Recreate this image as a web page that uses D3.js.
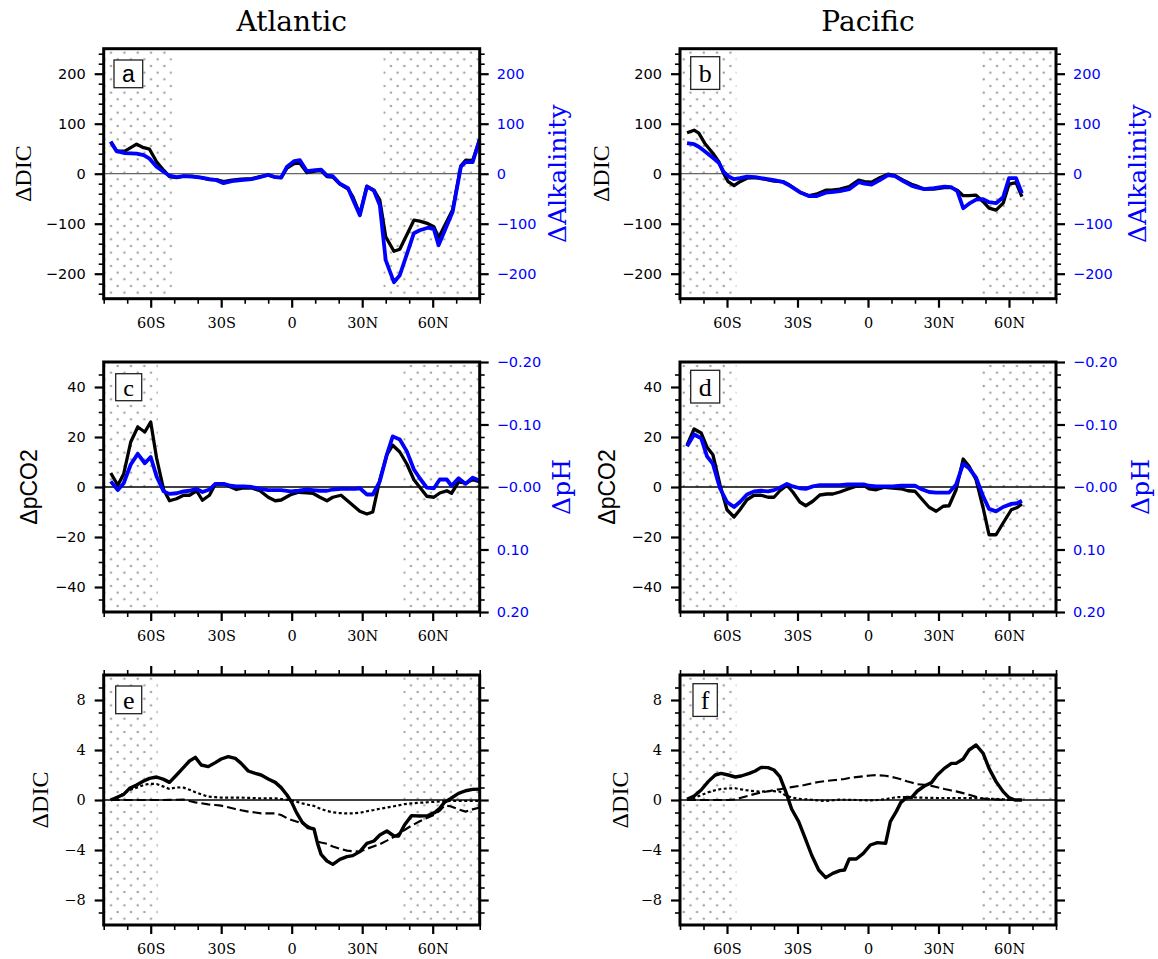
<!DOCTYPE html>
<html>
<head>
<meta charset="utf-8">
<script src="https://cdn.jsdelivr.net/npm/d3@7"></script>
<style>body{margin:0;background:#fff}</style>
</head>
<body>
<script>
// ---- data ----
var latA = [-77,-74.5,-71,-66,-63,-60.5,-57.5,-54.5,-52,-49,-46,-42.5,-38.5,-35,-32,-29,-25.5,-21.5,-17,-13.5,-10,-7,-4.5,-2,1,3.5,6.5,10,12.5,15,17.5,20.5,24,26,29,32,35,37.5,40,43.5,46,52,54.5,58,60.5,62.5,68.5,72,74,77,80];
var dicA = [64,45,45,59,52,49,24,7,-6,-8,-5,-5,-8,-12,-12,-16,-13,-11,-10,-6,-3,-7,-8,11,20,21,2,5,6,-6,-7,-21,-31,-46,-81,-25,-33,-53,-126,-155,-151,-93,-95,-100,-106,-128,-72,16,27,26,69];
var alkA = [64,45,41,40,37,30,14,4,-4,-7,-5,-6,-8,-11,-13,-19,-15,-13,-11,-7,-2,-7,-8,14,25,27,5,7,8,-4,-5,-20,-29,-51,-83,-26,-34,-63,-173,-217,-203,-119,-113,-108,-111,-143,-76,14,23,23,69];

var latB = [-77,-74,-72,-69.5,-66,-63.5,-61.5,-59.5,-57,-54.5,-51.5,-48,-44,-40,-36,-34,-29,-25,-22,-18,-15.5,-12,-8,-4,-1.5,1.5,5,8.5,11.5,15,18.5,20.5,24,28,32.5,35.5,38,40.5,43,46,49,51.5,54.5,57.5,60,63,65.5];
var dicB = [82,87,81,61,41,24,1,-16,-24,-16,-9,-8,-11,-15,-16,-21,-37,-44,-41,-33,-33,-31,-26,-13,-16,-17,-8,-1,-4,-13,-21,-24,-31,-31,-28,-28,-33,-44,-44,-43,-56,-69,-73,-59,-21,-18,-46];
var alkB = [61,59,54,45,32,22,4,-5,-11,-9,-6,-7,-10,-13,-17,-22,-37,-45,-45,-38,-37,-35,-31,-17,-20,-22,-13,-3,-5,-15,-24,-27,-31,-29,-26,-27,-35,-69,-60,-52,-51,-57,-59,-47,-9,-9,-39];

var latC = [-77,-74,-71.5,-68.5,-65.5,-62.5,-60,-57.5,-54.5,-52,-49,-46,-43.5,-40.5,-38,-35,-32.5,-29,-26,-23.5,-20.5,-17,-13.5,-10,-7,-4.5,-0.5,3,6.5,9,12,15,17.5,21,24,27,29,32,34.5,37.5,40.5,43,46,49,52,54.5,57.5,60.5,63,66,68,71,74,77,80];
var pco2C = [5.6,0.7,5.2,18,24,22,26,11.6,-1,-5.5,-4.7,-3.3,-3.3,-1.5,-5.3,-3.3,1.2,1.3,0,-1,-0.4,-0.4,-1.5,-4.1,-5.5,-5.2,-3.1,-2.1,-2.3,-2.5,-4.1,-5.5,-4.1,-3.3,-5.7,-8.1,-9.7,-10.8,-10,2.9,12.9,16.7,14,9.2,2.9,-0.1,-3.7,-4.1,-2.4,-1.5,-2.5,2,1.5,3,2];
var phC = [-0.009,0.005,-0.006,-0.036,-0.053,-0.038,-0.048,-0.017,0.007,0.011,0.010,0.007,0.006,0.003,0.008,0.004,-0.005,-0.005,-0.002,-0.001,-0.001,0,0.003,0.005,0.005,0.005,0.007,0.006,0.004,0.005,0.006,0.006,0.004,0.003,0.003,0.003,0.002,0.012,0.012,-0.009,-0.052,-0.081,-0.076,-0.057,-0.028,-0.014,0.001,0.002,-0.012,-0.012,-0.002,-0.014,-0.005,-0.015,-0.010];

var latD = [-77,-74,-71,-68.5,-66,-63,-60,-57,-54.5,-51.5,-48.5,-45.5,-42.5,-40,-37.5,-34.5,-32,-29,-26.5,-23.5,-20.5,-17.5,-15,-12,-8.5,-5,-1.5,0.5,3.5,7,10.5,14,17,20,22.5,26,29,32,34.5,37.5,40.5,43,46,49,51.5,54.5,57.5,61,63.5,65.5];
var pco2D = [16.7,23.2,21.6,15.9,12.9,0.9,-9.1,-12,-9.1,-5.1,-3.3,-3.3,-4.1,-4.1,-1.5,0.7,-2,-6,-7.5,-5.7,-3.2,-2.8,-2.8,-2,-0.8,0.3,0.5,-0.7,-1.1,-0.1,-0.4,-0.7,-1.5,-1.7,-4.4,-8.1,-9.7,-7.7,-7.5,-1.1,11.2,8.3,2.9,-8.4,-19.1,-19.1,-14.4,-9.1,-8.2,-6.8];
var phD = [-0.065,-0.084,-0.078,-0.049,-0.037,0.002,0.024,0.032,0.024,0.012,0.007,0.006,0.007,0.005,0.001,-0.005,-0.001,0.002,0.003,-0.001,-0.003,-0.003,-0.003,-0.003,-0.004,-0.004,-0.004,-0.002,-0.001,-0.001,-0.001,-0.002,-0.002,-0.002,0.003,0.008,0.009,0.009,0.009,-0.004,-0.037,-0.030,-0.015,0.015,0.035,0.039,0.032,0.027,0.026,0.022];

var latE = [-77,-74.5,-71.5,-69,-66,-63,-60.5,-57.5,-54.5,-52,-49,-46,-43.5,-41,-38.5,-35.5,-32.5,-30,-27,-24,-21.5,-18.5,-15.5,-13,-10,-7,-4.5,-2,0,2,4.5,7,9.5,11,12.5,15,17.5,20.5,23.5,26,29,32,35,37.5,40.5,43.5,45.5,48,51,54.5,58,61,63,65,67.5,71,74,77,80];
var totE = [0,0.2,0.45,0.93,1.2,1.52,1.73,1.84,1.65,1.41,2.0,2.61,3.12,3.41,2.8,2.67,2.99,3.28,3.47,3.33,2.93,2.32,2.13,2.0,1.68,1.41,0.99,0.4,-0.19,-0.99,-1.79,-2.21,-2.32,-3.47,-4.35,-4.88,-5.15,-4.75,-4.53,-4.45,-4.13,-3.47,-3.28,-2.8,-2.48,-2.88,-2.88,-2.0,-1.25,-1.28,-1.25,-0.99,-0.67,-0.19,0.1,0.53,0.74,0.85,0.87];
var dotE = [0,0.1,0.53,0.78,0.99,1.2,1.3,1.28,1.07,0.88,1.01,0.99,0.82,0.62,0.45,0.27,0.23,0.19,0.19,0.19,0.19,0.17,0.15,0.13,0.13,0.13,0.08,0.02,-0.05,-0.13,-0.27,-0.38,-0.47,-0.6,-0.72,-0.88,-0.98,-1.05,-1.07,-1.07,-1.02,-0.9,-0.8,-0.7,-0.6,-0.5,-0.43,-0.33,-0.27,-0.22,-0.18,-0.14,-0.12,-0.1,-0.08,-0.08,-0.08,-0.08,-0.08];
var dashE = [0,0,0,0,0,0,0,0,0,0.01,0.02,0.03,-0.08,-0.19,-0.26,-0.35,-0.4,-0.45,-0.58,-0.72,-0.82,-0.93,-1.0,-1.07,-1.07,-1.07,-1.2,-1.45,-1.6,-1.72,-1.87,-2.1,-2.4,-3.33,-3.4,-3.5,-3.72,-3.9,-4.05,-4.1,-4.13,-3.9,-3.7,-3.53,-3.25,-2.95,-2.7,-2.4,-2.05,-1.7,-1.4,-1.15,-0.85,-0.45,-0.5,-0.75,-0.93,-0.75,-0.6];

var latF = [-77,-74,-71,-68,-65,-62.5,-59.5,-56.5,-54,-50.5,-48,-45.5,-42.5,-40,-37.5,-35,-32.5,-29.5,-27,-24,-21,-18,-15,-12,-10,-8,-5,-2,1,4,7.5,9.5,12,14,16.5,18.5,21,24,27,29.5,32.5,35.5,37.5,40.5,43,46,49,51.5,54.5,57.5,60,62.5,65.5];
var totF = [0.05,0.32,0.8,1.47,2.0,2.13,2.0,1.84,1.92,2.13,2.32,2.61,2.59,2.4,1.87,0.67,-0.72,-1.73,-2.93,-4.4,-5.6,-6.21,-5.87,-5.65,-5.6,-4.72,-4.72,-4.27,-3.6,-3.41,-3.47,-1.73,-0.93,-0.19,0.21,0.19,0.72,1.12,1.39,2.0,2.53,2.93,2.93,3.28,4.0,4.4,3.73,2.53,1.47,0.67,0.19,0,0];
var dotF = [0,0.17,0.39,0.62,0.78,0.88,0.93,0.94,0.85,0.75,0.7,0.67,0.7,0.71,0.67,0.35,0.2,0.1,0.06,0.02,-0.04,-0.08,-0.02,0.03,0.02,0.01,0,-0.01,-0.03,0,0.06,0.14,0.22,0.23,0.23,0.21,0.2,0.18,0.17,0.16,0.16,0.16,0.16,0.16,0.15,0.14,0.12,0.1,0.08,0.06,0.04,0.02,0];
var dashF = [0,0,0,0,0,0,0,0.04,0.18,0.36,0.49,0.6,0.7,0.79,0.86,0.94,1.03,1.12,1.2,1.33,1.44,1.52,1.58,1.64,1.68,1.76,1.83,1.89,1.96,1.99,1.94,1.87,1.76,1.66,1.5,1.4,1.26,1.22,1.13,1.02,0.88,0.76,0.69,0.55,0.42,0.25,0.12,0.07,0.04,0.02,0.01,0,0];

// stippled (masked) latitude bands
var stipA = [[-80,-51],[39,80]];
var stipB = [[-80,-56],[48.5,80]];
var stipC = [[-80,-57],[47.5,80]];

var xTicks = [-60,-30,0,30,60];
var xTickLabels = ["60S","30S","0","30N","60N"];
var phTicks = [-0.2,-0.1,0,0.1,0.2];
var phTickLabels = ["\u22120.20","\u22120.10","\u22120.00","0.10","0.20"];

// ---- layout ----
var W = 376, H = 250;
var cols = [103.7, 680];
var rows = [48.7, 362, 675];

var SANS = "DejaVu Sans", SERIF = "DejaVu Serif", TIMES = "Liberation Serif";
var minus = d => d < 0 ? "\u2212" + (-d) : "" + d;

var svg = d3.select("body").append("svg").attr("width", 1158).attr("height", 959);
var defs = svg.append("defs");

function addAxis(g, gen, tr, size, vals, fmt, font, fsize, color, pad) {
  var a = g.append("g").attr("transform", tr)
    .call(gen.tickValues(vals).tickSize(size).tickSizeOuter(0).tickPadding(pad).tickFormat(fmt));
  a.select(".domain").remove();
  a.selectAll("line").attr("stroke", "#000").attr("stroke-width", size > 6 ? 2.2 : 1.6);
  a.selectAll("text").attr("font-family", font).attr("font-size", fsize).attr("fill", color);
  return a;
}

function panel(o) {
  var g = svg.append("g").attr("transform", "translate(" + o.x + "," + o.y + ")");
  var x = d3.scaleLinear().domain([-80, 80]).range([0, W]);
  var y = d3.scaleLinear().domain(o.yDom).range([H, 0]);
  var y2 = o.rDom ? d3.scaleLinear().domain(o.rDom).range([H, 0]) : y;

  // stipple pattern
  var p = defs.append("pattern").attr("id", "st" + o.id).attr("patternUnits", "userSpaceOnUse")
    .attr("x", o.x).attr("y", o.y).attr("width", 13.33).attr("height", 13.33);
  p.append("circle").attr("cx", 10.3).attr("cy", 8.6).attr("r", 1.25).attr("fill", "#a2a2a2");
  p.append("circle").attr("cx", 3.6).attr("cy", 1.9).attr("r", 1.25).attr("fill", "#a2a2a2");
  g.selectAll("rect.stip").data(o.stip).enter().append("rect").attr("class", "stip")
    .attr("x", d => x(d[0])).attr("width", d => x(d[1]) - x(d[0]))
    .attr("y", 0).attr("height", H).attr("fill", "url(#st" + o.id + ")");

  defs.append("clipPath").attr("id", "cl" + o.id).append("rect").attr("width", W).attr("height", H);

  g.append("line").attr("x1", 0).attr("x2", W).attr("y1", y(0)).attr("y2", y(0))
    .attr("stroke", o.zeroColor).attr("stroke-width", 1.3);

  var lg = g.append("g").attr("clip-path", "url(#cl" + o.id + ")");
  o.lines.forEach(function (s) {
    var sc = s.right ? y2 : y;
    lg.append("path").datum(s.v)
      .attr("d", d3.line().x((d, i) => x(s.lat[i])).y(d => sc(d)))
      .attr("fill", "none").attr("stroke", s.color).attr("stroke-width", s.w)
      .attr("stroke-linejoin", "round").attr("stroke-dasharray", s.dash || null);
  });

  // axes
  var xMinor = d3.range(-80, 81, 10).filter(v => v % 30 !== 0);
  addAxis(g, d3.axisBottom(x), "translate(0," + H + ")", 9, xTicks, (d, i) => xTickLabels[i], SERIF, 14.5, "#000", 10);
  addAxis(g, d3.axisBottom(x), "translate(0," + H + ")", 5, xMinor, "", SERIF, 14, "#000", 0);
  if (o.top) {
    addAxis(g, d3.axisTop(x), "translate(0,0)", 9, xTicks, "", SERIF, 14, "#000", 0);
    addAxis(g, d3.axisTop(x), "translate(0,0)", 5, xMinor, "", SERIF, 14, "#000", 0);
  }
  addAxis(g, d3.axisLeft(y), "translate(0,0)", 9, o.yMajor, minus, o.yFont, 14.5, "#000", 9);
  addAxis(g, d3.axisLeft(y), "translate(0,0)", 5, o.yMinor, "", o.yFont, 14, "#000", 0);
  if (o.rMajor) {
    addAxis(g, d3.axisRight(y2), "translate(" + W + ",0)", 9, o.rMajor, o.rFmt, SANS, 14.5, "#0000ff", 8);
    addAxis(g, d3.axisRight(y2), "translate(" + W + ",0)", 5, o.rMinor, "", SANS, 14, "#000", 0);
  } else {
    addAxis(g, d3.axisRight(y), "translate(" + W + ",0)", 9, o.yMajor, "", SANS, 14, "#000", 0);
    addAxis(g, d3.axisRight(y), "translate(" + W + ",0)", 5, o.yMinor, "", SANS, 14, "#000", 0);
  }

  g.append("rect").attr("width", W).attr("height", H).attr("fill", "none")
    .attr("stroke", "#000").attr("stroke-width", 3);

  // panel letter
  var b = o.box;
  g.append("rect").attr("x", b[0]).attr("y", b[1]).attr("width", b[2]).attr("height", b[3])
    .attr("fill", "#fff").attr("stroke", "#222").attr("stroke-width", 1.3);
  g.append("text").attr("x", b[0] + b[2] / 2).attr("y", b[1] + b[3] / 2).attr("dy", "0.35em")
    .attr("text-anchor", "middle").attr("font-family", o.letterFont).attr("font-size", o.letterSize)
    .text(o.id);

  // axis titles
  g.append("text").attr("transform", "translate(" + o.lTitleX + "," + H / 2 + ") rotate(-90)")
    .attr("text-anchor", "middle").attr("dy", "0.35em").attr("font-family", o.lTitleFont)
    .attr("font-size", o.lTitleSize).text(o.lTitle);
  if (o.rTitle) {
    g.append("text").attr("transform", "translate(" + (W + o.rTitleDx) + "," + H / 2 + ") rotate(-90)")
      .attr("text-anchor", "middle").attr("dy", "0.35em").attr("font-family", SERIF)
      .attr("font-size", 25).attr("fill", "#0000ff").text(o.rTitle);
  }
}

var dicMajor = [-200, -100, 0, 100, 200], dicMinor = d3.range(-240, 241, 20).filter(v => v % 100 !== 0);
var pMajor = [-40, -20, 0, 20, 40], pMinor = d3.range(-45, 46, 5).filter(v => v % 20 !== 0);
var phMinor = d3.range(-9, 10).filter(k => k % 5 !== 0).map(k => k * 0.02);
var eMajor = [-8, -4, 0, 4, 8], eMinor = d3.range(-9, 10).filter(v => v % 4 !== 0);
var phFmt = (d, i) => phTickLabels[i];

var panels = [
  {id: "a", x: cols[0], y: rows[0], yDom: [-250, 250], yMajor: dicMajor, yMinor: dicMinor, yFont: SANS,
   rMajor: dicMajor, rMinor: dicMinor, rFmt: minus, stip: stipA, zeroColor: "#666",
   lines: [{lat: latA, v: dicA, color: "#000", w: 3.3}, {lat: latA, v: alkA, color: "#0000ff", w: 3.8}],
   box: [10.3, 11.3, 28.7, 27.7], letterFont: "Liberation Sans", letterSize: 23,
   lTitle: "\u0394DIC", lTitleFont: TIMES, lTitleSize: 24, lTitleX: -81, rTitle: "\u0394Alkalinity", rTitleDx: 78},
  {id: "b", x: cols[1], y: rows[0], yDom: [-250, 250], yMajor: dicMajor, yMinor: dicMinor, yFont: SANS,
   rMajor: dicMajor, rMinor: dicMinor, rFmt: minus, stip: stipB, zeroColor: "#666",
   lines: [{lat: latB, v: dicB, color: "#000", w: 3.3}, {lat: latB, v: alkB, color: "#0000ff", w: 3.8}],
   box: [10.7, 8, 29, 32.7], letterFont: TIMES, letterSize: 26,
   lTitle: "\u0394DIC", lTitleFont: TIMES, lTitleSize: 24, lTitleX: -79, rTitle: "\u0394Alkalinity", rTitleDx: 81},
  {id: "c", x: cols[0], y: rows[1], yDom: [-50, 50], yMajor: pMajor, yMinor: pMinor, yFont: SANS,
   rDom: [0.2, -0.2], rMajor: phTicks, rMinor: phMinor, rFmt: phFmt, stip: stipC, zeroColor: "#000",
   lines: [{lat: latC, v: pco2C, color: "#000", w: 3.3}, {lat: latC, v: phC, color: "#0000ff", w: 3.8, right: true}],
   box: [12, 11.7, 26, 27], letterFont: TIMES, letterSize: 24,
   lTitle: "\u0394pCO2", lTitleFont: "Liberation Sans", lTitleSize: 23, lTitleX: -75, rTitle: "\u0394pH", rTitleDx: 82},
  {id: "d", x: cols[1], y: rows[1], yDom: [-50, 50], yMajor: pMajor, yMinor: pMinor, yFont: SANS,
   rDom: [0.2, -0.2], rMajor: phTicks, rMinor: phMinor, rFmt: phFmt, stip: stipB, zeroColor: "#000",
   lines: [{lat: latD, v: pco2D, color: "#000", w: 3.3}, {lat: latD, v: phD, color: "#0000ff", w: 3.8, right: true}],
   box: [10.7, 8.3, 29, 32.7], letterFont: TIMES, letterSize: 26,
   lTitle: "\u0394pCO2", lTitleFont: "Liberation Sans", lTitleSize: 23, lTitleX: -73, rTitle: "\u0394pH", rTitleDx: 84},
  {id: "e", x: cols[0], y: rows[2], yDom: [-10, 10], yMajor: eMajor, yMinor: eMinor, yFont: SERIF, top: true,
   stip: stipC, zeroColor: "#000",
   lines: [{lat: latE, v: dashE, color: "#000", w: 2.2, dash: "9,4"}, {lat: latE, v: dotE, color: "#000", w: 2.2, dash: "3,2.5"},
           {lat: latE, v: totE, color: "#000", w: 3.4}],
   box: [12, 11, 26, 27.7], letterFont: TIMES, letterSize: 26,
   lTitle: "\u0394DIC", lTitleFont: TIMES, lTitleSize: 24, lTitleX: -64},
  {id: "f", x: cols[1], y: rows[2], yDom: [-10, 10], yMajor: eMajor, yMinor: eMinor, yFont: SERIF, top: true,
   stip: stipB, zeroColor: "#000",
   lines: [{lat: latF, v: dashF, color: "#000", w: 2.2, dash: "9,4"}, {lat: latF, v: dotF, color: "#000", w: 2.2, dash: "3,2.5"},
           {lat: latF, v: totF, color: "#000", w: 3.4}],
   box: [13, 8.7, 24.3, 32.7], letterFont: TIMES, letterSize: 26,
   lTitle: "\u0394DIC", lTitleFont: TIMES, lTitleSize: 24, lTitleX: -60}
];
panels.forEach(panel);

// column titles
svg.selectAll("text.title").data(["Atlantic", "Pacific"]).enter().append("text").attr("class", "title")
  .attr("x", (d, i) => cols[i] + W / 2).attr("y", 31).attr("text-anchor", "middle")
  .attr("font-family", SERIF).attr("font-size", 28).text(d => d);
</script>
</body>
</html>
